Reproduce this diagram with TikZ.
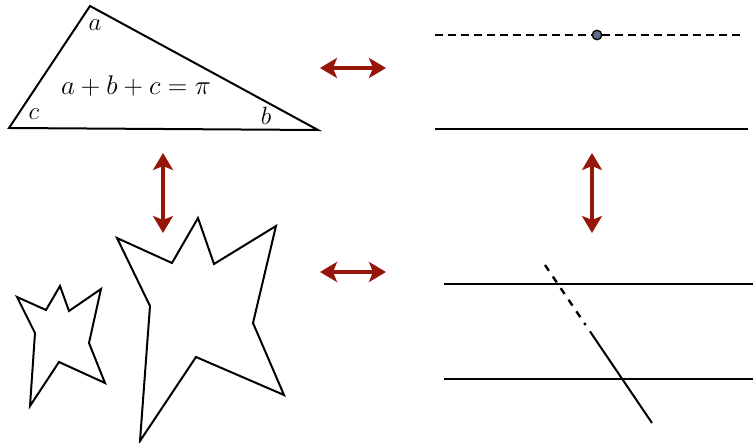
\RequirePackage{fix-cm}
\documentclass[tikz,border=0pt]{standalone}
\usepackage{amsmath,amssymb}
\usepackage{xcolor}
\usepackage{tikz}
\usetikzlibrary{arrows.meta, calc}
\definecolor{arrowred}{RGB}{150, 22, 10}
\definecolor{dotblue}{RGB}{92, 110, 140}

\begin{document}
\begin{tikzpicture}[
    x=1pt, y=-1pt,
    edge/.style={line width=2pt, line join=miter},
    dashedge/.style={line width=2.4pt, dash pattern=on 8pt off 5pt},
    angle/.style={font=\fontsize{25}{30}\selectfont, inner sep=0pt},
    link/.style={{Stealth[length=17pt, width=20pt, inset=4pt]}-{Stealth[length=17pt, width=20pt, inset=4pt]},
        line width=4.2pt, draw=arrowred},
    point/.style={circle, draw=black, fill=dotblue, line width=1.3pt, minimum size=9.5pt, inner sep=0pt}
]
\useasboundingbox (0,0) rectangle (753,443);

% ==============================================================================
% TOP LEFT: TRIANGLE WITH ANGLE SUM
% ==============================================================================
\coordinate (ta) at (90,6);
\coordinate (tc) at (9,128);
\coordinate (tb) at (318,130);
\draw[edge] (ta) -- (tb) -- (tc) -- cycle;

\node[angle] (lbla) at (95,25) {$a$};
\node[angle] (lblc) at (34,114) {$c$};
\node[angle] (lblb) at (266,116) {$b$};
\node[angle, font=\fontsize{27}{32}\selectfont] (anglesum) at (136,86) {$a+b+c=\pi$};

% ==============================================================================
% TOP RIGHT: LINE AND PARALLEL THROUGH A POINT
% ==============================================================================
\coordinate (dl) at (435,35);
\coordinate (dr) at (745,35);
\node[point] (pt) at (597,35) {};
\draw[dashedge] (dl) -- (pt.west);
\draw[dashedge] (pt.east) -- (dr);

\coordinate (sl) at (435,129);
\coordinate (sr) at (748,129);
\draw[edge] (sl) -- (sr);

% ==============================================================================
% BOTTOM LEFT: TWO POLYGONS
% ==============================================================================
\draw[edge] (17,297) -- (46,310) -- (60,286) -- (69,311) -- (101,289) -- (89,343)
    -- (105,383) -- (59,362) -- (30,406) -- (35,333) -- cycle;

\draw[edge] (117,238) -- (172,263) -- (198,218) -- (214,264) -- (276,226) -- (253,323)
    -- (284,395) -- (196,357) -- (140,441) -- (150,306) -- cycle;

% ==============================================================================
% BOTTOM RIGHT: TWO LINES AND A TRANSVERSAL
% ==============================================================================
\coordinate (l1a) at (444,284);
\coordinate (l1b) at (753,284);
\coordinate (l2a) at (444,379);
\coordinate (l2b) at (753,379);
\draw[edge] (l1a) -- (l1b);
\draw[edge] (l2a) -- (l2b);

\coordinate (ta1) at (545,265);
\coordinate (tb1) at (652,423);
\draw[line width=2.4pt, dash pattern=on 7pt off 7pt] (ta1) -- ($(ta1)!0.38!(tb1)$);
\draw[edge] ($(ta1)!0.42!(tb1)$) -- (tb1);

% ==============================================================================
% CONNECTING ARROWS
% ==============================================================================
\coordinate (h1l) at (320,68);
\coordinate (h1r) at (386,68);
\coordinate (h2l) at (320,272);
\coordinate (h2r) at (386,272);
\coordinate (v1t) at (163,153);
\coordinate (v1b) at (163,233);
\coordinate (v2t) at (592,153);
\coordinate (v2b) at (592,233);

\draw[link] (h1l) -- (h1r);
\draw[link] (h2l) -- (h2r);
\draw[link] (v1t) -- (v1b);
\draw[link] (v2t) -- (v2b);

\end{tikzpicture}
\end{document}
